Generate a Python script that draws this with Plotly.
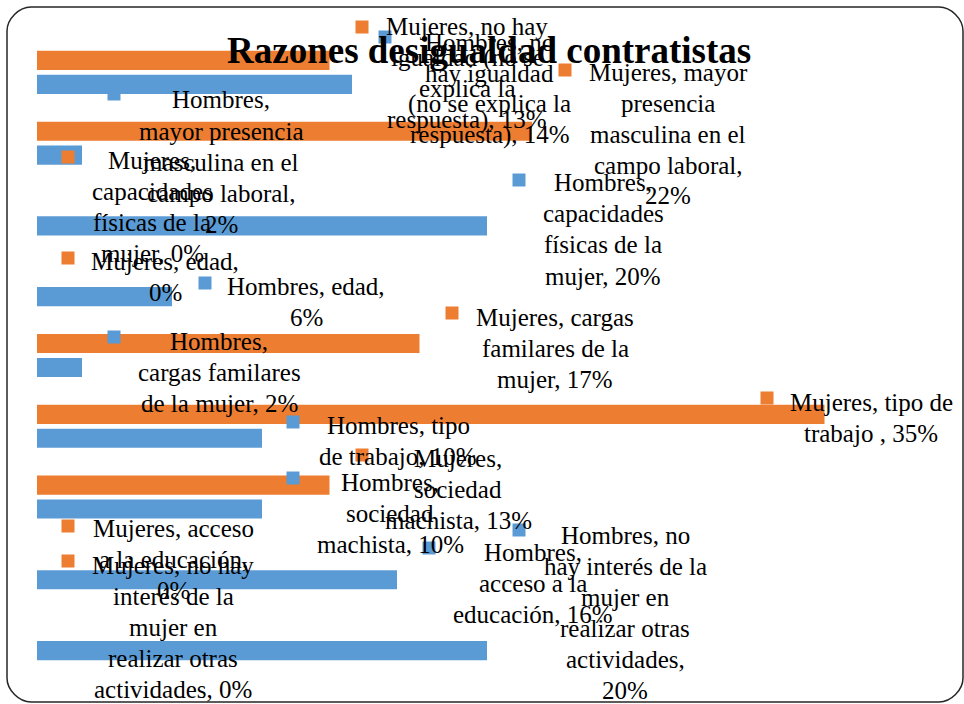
import plotly.graph_objects as go

# ---- data ----
categories = [
    "no hay igualdad (no se explica la respuesta)",
    "mayor presencia masculina en el campo laboral",
    "capacidades físicas de la mujer",
    "edad",
    "cargas familares de la mujer",
    "tipo de trabajo",
    "sociedad machista",
    "acceso a la educación",
    "no hay interés de la mujer en realizar otras actividades",
]
mujeres = [13, 22, 0, 0, 17, 35, 13, 0, 0]
hombres = [14, 2, 20, 6, 2, 10, 10, 16, 20]
series_names = ["Mujeres", "Hombres"]
title_text = "Razones desigualdad contratistas"

# ---- layout helpers (label wrapping / placement, pixel positions) ----
W, H = 964, 704
ML, MR, MT, MB = 37, 27, 37, 30
PW, PH = W - ML - MR, H - MT - MB

def px(x):
    return (x - ML) / PW

def py(y):
    return 1 - (y - MT) / PH

wrap_m = [[3, 3, 2, 2], [2, 1, 3, 2, 1], [1, 1, 3, 2], [2, 1], [2, 3, 2], [3, 2], [1, 1, 2], [2, 3, 1], [3, 3, 2, 2, 2]]
wrap_h = [[2, 2, 4, 2], [1, 2, 3, 2, 1], [1, 1, 3, 2], [2, 1], [1, 2, 4], [2, 3], [1, 1, 2], [1, 3, 2], [2, 4, 2, 2, 1, 1]]
text_pos_m = [(467, 27), (668, 72), (152, 160), (165, 261), (555, 317), (871, 402), (458, 458), (173, 528), (173, 565)]
text_pos_h = [(490, 42), (221, 100), (603, 183), (306, 286), (219, 341), (398, 425), (390, 482), (533, 552), (625, 535)]
sq_pos_m = [(362, 27), (565, 70), (68, 157), (68, 258), (452, 313), (767, 398), (362, 455), (68, 526), (68, 561)]
sq_pos_h = [(385, 37), (114, 94), (519, 180), (205, 283), (114, 337), (293, 422), (293, 478), (429, 548), (519, 530)]

C_M = "#ED7D31"
C_H = "#5B9BD5"
FONT = "Liberation Serif"
LBL_SIZE = 25
LINE_H = 31

def wrap(text, counts):
    words = text.split(" ")
    lines, i = [], 0
    for c in counts:
        lines.append(" ".join(words[i:i + c]))
        i += c
    return lines

fig = go.Figure()
fig.add_trace(go.Bar(y=categories, x=mujeres, orientation="h", name=series_names[0],
                     marker=dict(color=C_M, line=dict(width=0))))
fig.add_trace(go.Bar(y=categories, x=hombres, orientation="h", name=series_names[1],
                     marker=dict(color=C_H, line=dict(width=0))))

annotations = []
shapes = []
for name, vals, wraps, tpos, spos, col in [
    (series_names[0], mujeres, wrap_m, text_pos_m, sq_pos_m, C_M),
    (series_names[1], hombres, wrap_h, text_pos_h, sq_pos_h, C_H),
]:
    for i, cat in enumerate(categories):
        full = f"{name}, {cat}, {vals[i]}%"
        lines = wrap(full, wraps[i])
        if name == "Mujeres" and cat == "tipo de trabajo":
            lines = [l.replace("trabajo,", "trabajo ,") for l in lines]
        cx, cy = tpos[i]
        # one annotation per line so that line spacing matches the reference
        for j, line in enumerate(lines):
            annotations.append(dict(
                x=px(cx), y=py(cy + j * LINE_H), xref="paper", yref="paper",
                text=line, showarrow=False, align="center",
                xanchor="center", yanchor="middle",
                font=dict(family=FONT, size=LBL_SIZE, color="#000000"),
            ))
        sx, sy = spos[i]
        shapes.append(dict(type="rect", xref="paper", yref="paper",
                           x0=px(sx - 6.5), x1=px(sx + 6.5), y0=py(sy + 6.5), y1=py(sy - 6.5),
                           fillcolor=col, line=dict(width=0), layer="above"))

annotations.append(dict(
    x=px(489), y=py(50), xref="paper", yref="paper", text=f"<b>{title_text}</b>",
    showarrow=False, xanchor="center", yanchor="middle",
    font=dict(family=FONT, size=37, color="#000000"),
))

# rounded border
L, T, R, B, r = 7, 7, 963, 702, 24
k = 0.5 * r
def P(x, y):
    return f"{px(x):.5f},{py(y):.5f}"
path = (f"M {P(L + r, T)} L {P(R - r, T)} C {P(R - r + k, T)} {P(R, T + r - k)} {P(R, T + r)} "
        f"L {P(R, B - r)} C {P(R, B - r + k)} {P(R - r + k, B)} {P(R - r, B)} "
        f"L {P(L + r, B)} C {P(L + r - k, B)} {P(L, B - r + k)} {P(L, B - r)} "
        f"L {P(L, T + r)} C {P(L, T + r - k)} {P(L + r - k, T)} {P(L + r, T)} Z")
shapes.append(dict(type="path", xref="paper", yref="paper", path=path,
                   line=dict(color="#262626", width=1.5), fillcolor="rgba(0,0,0,0)", layer="above"))

fig.update_layout(
    width=W, height=H,
    margin=dict(l=ML, r=MR, t=MT, b=MB, pad=0),
    paper_bgcolor="white", plot_bgcolor="white",
    barmode="group", bargap=0.324, bargroupgap=0.2,
    showlegend=False,
    xaxis=dict(range=[0, 40], visible=False, fixedrange=True),
    yaxis=dict(autorange="reversed", visible=False, fixedrange=True),
    annotations=annotations, shapes=shapes,
    font=dict(family=FONT),
)

fig.write_html("out.html", config={"displayModeBar": False},
               post_script="document.body.style.margin='0';document.body.style.overflow='hidden';")
